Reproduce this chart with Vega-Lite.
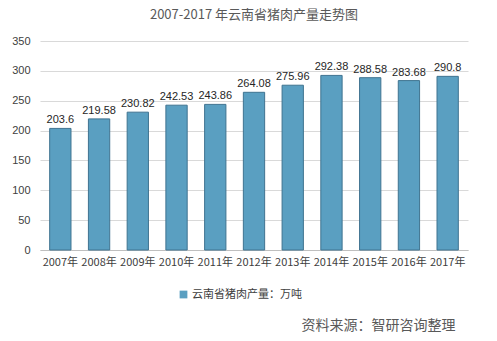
{
  "$schema": "https://vega.github.io/schema/vega-lite/v6.json",
  "autosize": "none",
  "width": 428,
  "height": 209,
  "padding": {"left": 40, "top": 41, "right": 29, "bottom": 91},
  "background": "white",
  "config": {
    "font": "Liberation Sans",
    "view": {"stroke": null}
  },
  "title": {
    "text": "2007-2017 年云南省猪肉产量走势图",
    "fontSize": 13,
    "fontWeight": "normal",
    "color": "#595959",
    "font": "Noto Sans CJK SC",
    "anchor": "middle",
    "frame": "group",
    "offset": 13
  },
  "data": {
    "values": [
      {"year": "2007年", "value": 203.6, "series": "云南省猪肉产量：万吨"},
      {"year": "2008年", "value": 219.58, "series": "云南省猪肉产量：万吨"},
      {"year": "2009年", "value": 230.82, "series": "云南省猪肉产量：万吨"},
      {"year": "2010年", "value": 242.53, "series": "云南省猪肉产量：万吨"},
      {"year": "2011年", "value": 243.86, "series": "云南省猪肉产量：万吨"},
      {"year": "2012年", "value": 264.08, "series": "云南省猪肉产量：万吨"},
      {"year": "2013年", "value": 275.96, "series": "云南省猪肉产量：万吨"},
      {"year": "2014年", "value": 292.38, "series": "云南省猪肉产量：万吨"},
      {"year": "2015年", "value": 288.58, "series": "云南省猪肉产量：万吨"},
      {"year": "2016年", "value": 283.68, "series": "云南省猪肉产量：万吨"},
      {"year": "2017年", "value": 290.8, "series": "云南省猪肉产量：万吨"}
    ]
  },
  "encoding": {
    "x": {
      "field": "year",
      "type": "nominal",
      "sort": null,
      "scale": {"paddingInner": 0.45, "paddingOuter": 0.25},
      "axis": {
        "title": "资料来源：智研咨询整理",
        "titleFont": "Noto Sans CJK SC",
        "titleFontSize": 14,
        "titleFontWeight": "normal",
        "titleColor": "#595959",
        "titleAnchor": "end",
        "titleAlign": "right",
        "titleX": 415,
        "titleY": 68,
        "labelAngle": 0,
        "labelFont": "Noto Sans CJK SC",
        "labelFontSize": 11,
        "labelColor": "#404040",
        "labelPadding": 6,
        "domainColor": "#bfbfbf",
        "ticks": false
      }
    },
    "y": {
      "field": "value",
      "type": "quantitative",
      "scale": {"domain": [0, 350]},
      "axis": {
        "title": null,
        "values": [0, 50, 100, 150, 200, 250, 300, 350],
        "labelFontSize": 11,
        "labelColor": "#404040",
        "labelPadding": 10,
        "domain": false,
        "ticks": false,
        "gridColor": "#d9d9d9"
      }
    }
  },
  "layer": [
    {
      "mark": {"type": "bar", "stroke": "#3f7390", "strokeWidth": 1},
      "encoding": {
        "color": {
          "field": "series",
          "type": "nominal",
          "scale": {"range": ["#5a9fc1"]},
          "legend": {
            "title": null,
            "orient": "none",
            "legendX": 138,
            "legendY": 248,
            "symbolType": "square",
            "symbolSize": 60,
            "symbolStrokeWidth": 0,
            "labelFont": "Noto Sans CJK SC",
            "labelFontSize": 11,
            "labelColor": "#404040",
            "labelOffset": 3
          }
        }
      }
    },
    {
      "mark": {"type": "text", "dy": -8, "fontSize": 11, "color": "#262626"},
      "encoding": {
        "text": {"field": "value", "type": "quantitative"}
      }
    }
  ]
}
